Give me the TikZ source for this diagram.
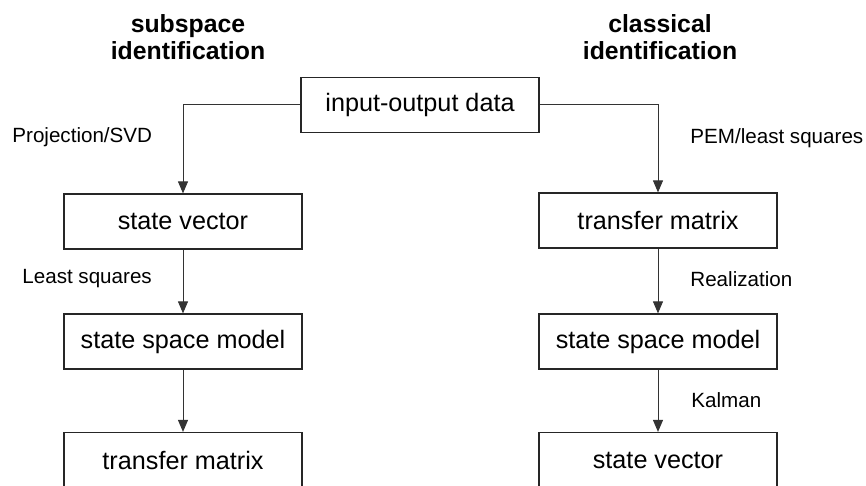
\documentclass[tikz,border=0pt]{standalone}
\usepackage{fontspec}
\setmainfont{Liberation Sans}
\usepackage{tikz}
\usetikzlibrary{arrows.meta, positioning}

\begin{document}
\begin{tikzpicture}[
    x=0.5pt, y=-0.5pt,
    block/.style = {rectangle, draw=black!85, line width=0.6pt, minimum width=119pt, minimum height=27.5pt, inner sep=0pt, font=\fontsize{12.6}{13.5}\selectfont},
    head/.style = {align=center, inner sep=0pt, font=\fontsize{12.4}{13.5}\selectfont\bfseries},
    lbl/.style = {anchor=west, inner sep=0pt, font=\fontsize{10.3}{12}\selectfont},
    flow/.style = {line width=0.5pt, black!80, -{Triangle[length=6pt, width=5pt]}}
]

% Frame
\useasboundingbox (0,0) rectangle (866,486);
\clip (0,0) rectangle (866,486);

% Headings
\node (head_sub) [head] at (188,37) {subspace\\identification};
\node (head_cls) [head] at (660,37) {classical\\identification};

% Data
\node (io_data) [block] at (420,105) {input-output data};

% Subspace branch
\node (sub_sv) [block] at (183,221.5) {state vector};
\node (sub_ssm) [block] at (183,341.5) {state space model};
\node (sub_tm) [block] at (183,460) {transfer matrix};

% Classical branch
\node (cls_tm) [block] at (658,220.5) {transfer matrix};
\node (cls_ssm) [block] at (658,341.5) {state space model};
\node (cls_sv) [block] at (658,460) {state vector};

% Labels
\node (lbl_proj) [lbl] at (12,137) {Projection/SVD};
\node (lbl_ls) [lbl] at (22,279) {Least squares};
\node (lbl_pem) [lbl] at (690,138) {PEM/least squares};
\node (lbl_real) [lbl] at (690,279) {Realization};
\node (lbl_kal) [lbl] at (691,400) {Kalman};

% Connections
\draw [flow] (io_data.west) -| (sub_sv.north);
\draw [flow] (sub_sv) -- (sub_ssm);
\draw [flow] (sub_ssm) -- (sub_tm);

\draw [flow] (io_data.east) -| (cls_tm.north);
\draw [flow] (cls_tm) -- (cls_ssm);
\draw [flow] (cls_ssm) -- (cls_sv);

\end{tikzpicture}
\end{document}
